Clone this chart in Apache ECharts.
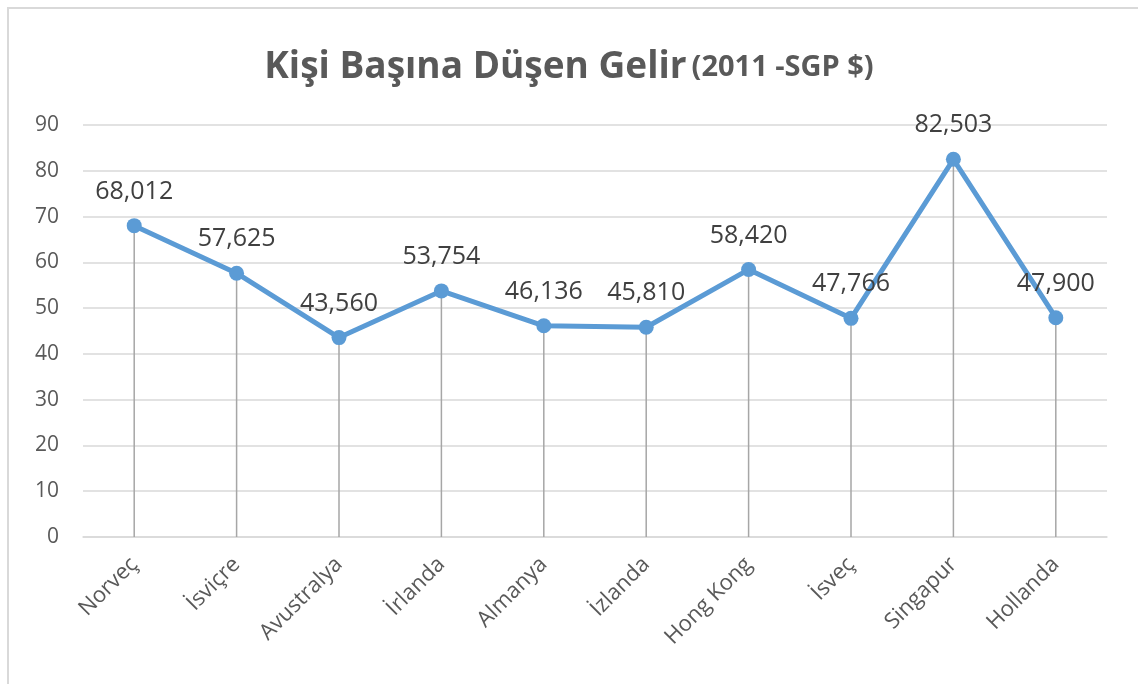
<!DOCTYPE html>
<html>
<head>
<meta charset="utf-8">
<style>
  html, body { margin: 0; padding: 0; background: #fff; }
  #chart { width: 1138px; height: 684px; }
</style>
<script src="https://cdn.jsdelivr.net/npm/echarts@6/dist/echarts.min.js"></script>
</head>
<body>
<div id="chart"></div>
<script>
// ülkeler ve kişi başı gelir (2011, SGP $)
var countries = ["Norveç", "İsviçre", "Avustralya", "İrlanda", "Almanya", "İzlanda", "Hong Kong", "İsveç", "Singapur", "Hollanda"];
var income = [68012, 57625, 43560, 53754, 46136, 45810, 58420, 47766, 82503, 47900];
var yTicks = [0, 10, 20, 30, 40, 50, 60, 70, 80, 90];

var fontName = "'Open Sans', 'Noto Sans', sans-serif";
var myChart = echarts.init(document.getElementById("chart"));

var option = {
  animation: false,
  backgroundColor: "#fff",
  graphic: [
    {
      type: "rect",
      shape: { x: 8, y: 8, width: 1300, height: 900 },
      style: { fill: "none", stroke: "#d9d9d9", lineWidth: 2 },
      silent: true
    }
  ],
  title: {
    text: "{a|Kişi Başına Düşen Gelir} {b|(2011 -SGP $)}",
    left: "center",
    top: 44,
    textStyle: {
      rich: {
        a: { fontSize: 37, fontWeight: "bold", color: "#595959", fontFamily: fontName },
        b: { fontSize: 29, fontWeight: "bold", color: "#595959", fontFamily: fontName }
      }
    }
  },
  grid: {
    left: 83,
    right: 31,
    top: 125,
    bottom: 147,
    containLabel: false
  },
  xAxis: {
    type: "category",
    data: countries,
    boundaryGap: true,
    axisLine: { show: true, lineStyle: { color: "#d9d9d9", width: 1.5 } },
    axisTick: { show: false },
    axisLabel: {
      interval: 0,
      rotate: 45,
      margin: 24,
      fontSize: 22,
      color: "#595959",
      fontFamily: fontName
    }
  },
  yAxis: {
    type: "value",
    min: 0,
    max: 90000,
    interval: 10000,
    axisLine: { show: false },
    axisTick: { show: false },
    splitLine: { lineStyle: { color: "#d9d9d9", width: 1.5 } },
    axisLabel: {
      margin: 24,
      fontSize: 21,
      color: "#595959",
      fontFamily: fontName,
      formatter: function (v) {
        return String(yTicks[Math.round(v / 10000)]);
      }
    }
  },
  series: [
    {
      // düşey çizgiler
      type: "bar",
      data: income,
      barWidth: 1.5,
      silent: true,
      itemStyle: { color: "#a6a6a6" },
      z: 1
    },
    {
      type: "line",
      data: income,
      symbol: "circle",
      symbolSize: 15,
      lineStyle: { color: "#5b9bd5", width: 5 },
      itemStyle: { color: "#5b9bd5" },
      label: {
        show: true,
        position: "top",
        distance: 14,
        fontSize: 25,
        color: "#404040",
        fontFamily: fontName,
        formatter: function (p) {
          return p.value.toLocaleString("en-US");
        }
      },
      z: 3
    }
  ]
};

myChart.setOption(option);
</script>
</body>
</html>
